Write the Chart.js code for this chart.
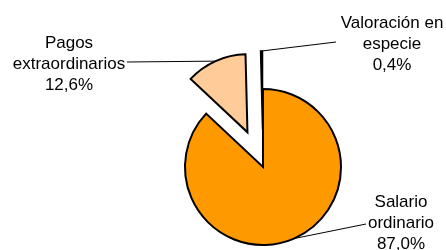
<!DOCTYPE html>
<html>
<head>
<meta charset="utf-8">
<script src="https://cdn.jsdelivr.net/npm/chart.js@4/dist/chart.umd.min.js"></script>
<style>
  html, body { margin: 0; padding: 0; background: #fff; }
  #wrap { width: 446px; height: 250px; position: relative; }
</style>
</head>
<body>
<div id="wrap"><canvas id="pie"></canvas></div>
<script>
const categories = [["Salario", "ordinario"], ["Pagos", "extraordinarios"], ["Valoración en", "especie"]];
const shares = [87.0, 12.6, 0.4];
const sliceColors = ["#FF9900", "#FFCC99", "#000000"];

// how far each slice is pulled out along its bisector (px)
const explode = [0, 38, 38];

// label block: centre x, first baseline, and where the leader line stops
const labelBoxes = [
  { x: 401, y: 207, lineX: 366, lineY: 224 },
  { x: 69, y: 48, lineX: 127, lineY: 62 },
  { x: 392, y: 28, lineX: 336, lineY: 42 },
];

function pct(v) {
  const total = shares.reduce((a, b) => a + b, 0);
  return (v / total * 100).toFixed(1).replace(".", ",") + "%";
}

// plain translation of the exploded slices (the built-in offset also grows the radius)
const explodePlugin = {
  id: "explode",
  afterUpdate(chart) {
    chart.getDatasetMeta(0).data.forEach((arc, i) => {
      if (arc._exploded) return;
      const base = arc.draw;
      arc.draw = function (ctx, area) {
        const mid = (this.startAngle + this.endAngle) / 2;
        const d = explode[i] || 0;
        ctx.save();
        ctx.translate(Math.cos(mid) * d, Math.sin(mid) * d);
        base.call(this, ctx, area);
        ctx.restore();
      };
      arc._exploded = true;
    });
  }
};

const calloutPlugin = {
  id: "callouts",
  afterDatasetsDraw(chart) {
    const ctx = chart.ctx;
    const arcs = chart.getDatasetMeta(0).data;
    ctx.save();
    ctx.font = '17px "Liberation Sans", Arial, sans-serif';
    ctx.fillStyle = "#000";
    ctx.strokeStyle = "#000";
    ctx.lineWidth = 1;
    ctx.textAlign = "center";
    arcs.forEach((arc, i) => {
      const mid = (arc.startAngle + arc.endAngle) / 2;
      const r = arc.outerRadius + (explode[i] || 0);
      const px = arc.x + Math.cos(mid) * r;
      const py = arc.y + Math.sin(mid) * r;
      const box = labelBoxes[i];
      ctx.beginPath();
      ctx.moveTo(px, py);
      ctx.lineTo(box.lineX, box.lineY);
      ctx.stroke();
      const lines = categories[i].concat(pct(shares[i]));
      lines.forEach((t, k) => ctx.fillText(t, box.x, box.y + k * 21));
    });
    ctx.restore();
  }
};

new Chart(document.getElementById("pie"), {
  type: "pie",
  data: {
    labels: categories,
    datasets: [{
      data: shares,
      backgroundColor: sliceColors,
      borderColor: "#000",
      borderWidth: [2, 2, 1.5],
      borderJoinStyle: "miter",
      radius: 78
    }]
  },
  options: {
    responsive: true,
    maintainAspectRatio: false,
    animation: false,
    events: [],
    radius: 78,
    layout: { padding: { left: 80, top: 84, right: 0, bottom: 0 } },
    plugins: { legend: { display: false }, tooltip: { enabled: false } }
  },
  plugins: [explodePlugin, calloutPlugin]
});
</script>
</body>
</html>
